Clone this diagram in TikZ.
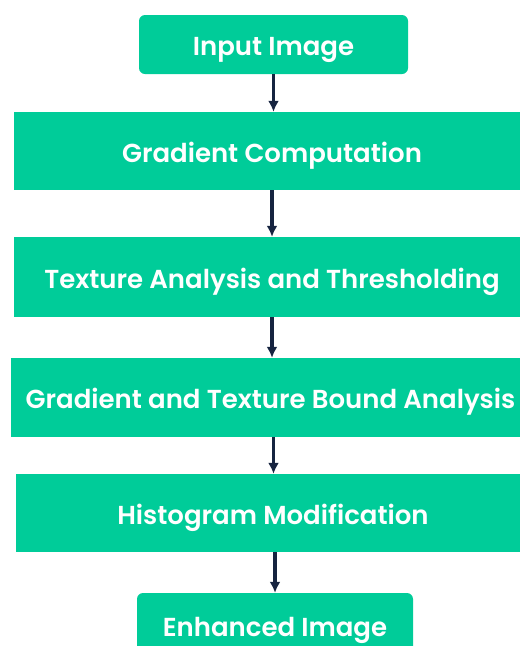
\documentclass[tikz,border=0pt]{standalone}
\usepackage{fontspec}
\setmainfont{Poppins}[BoldFont={Poppins SemiBold}]
\usepackage{xcolor}
\usetikzlibrary{arrows.meta, positioning}

\definecolor{boxgreen}{RGB}{0,204,153}
\definecolor{arrownavy}{RGB}{22,36,64}

\begin{document}
\begin{tikzpicture}[x=1pt, y=-1pt, >=Latex]
		\tikzstyle{step box} = [fill=boxgreen, draw=none, text=white, font=\fontsize{26}{30}\selectfont\bfseries, inner sep=0pt, text height=22pt, text depth=0pt]
		\tikzstyle{end box} = [step box, rounded corners=6pt]
		\tikzstyle{arrow} = [draw=arrownavy, line width=3.2pt, -{Latex[length=11pt, width=11pt]}]

		\useasboundingbox (0, 0) rectangle (520, 646);
		\clip (0, 0) rectangle (520, 646);

		\node[end box, minimum width=269pt, minimum height=59pt]	at (273.5, 44.5)	(input)	{Input Image};
		\node[step box, minimum width=516pt, minimum height=78pt]	at (272, 151)	(grad)	{Gradient Computation};
		\node[step box, minimum width=516pt, minimum height=80pt]	at (272, 277)	(texture)	{Texture Analysis and Thresholding};
		\node[step box, minimum width=519pt, minimum height=79pt]	at (270.5, 397.5)	(bound)	{Gradient and Texture Bound Analysis};
		\node[step box, minimum width=514pt, minimum height=78pt]	at (273, 513)	(hist)	{Histogram Modification};
		\node[end box, minimum width=276pt, minimum height=64pt]	at (275, 625)	(enhanced)	{Enhanced Image};

		\draw[arrow] (input.south) -- (input.south |- grad.north);
		\draw[arrow] (grad.south) -- (grad.south |- texture.north);
		\draw[arrow] (texture.south) -- (texture.south |- bound.north);
		\draw[arrow] ([xshift=3pt]bound.south) -- ([xshift=3pt]bound.south |- hist.north);
		\draw[arrow] ([xshift=2pt]hist.south) -- ([xshift=2pt]hist.south |- enhanced.north);
	\end{tikzpicture}
\end{document}
